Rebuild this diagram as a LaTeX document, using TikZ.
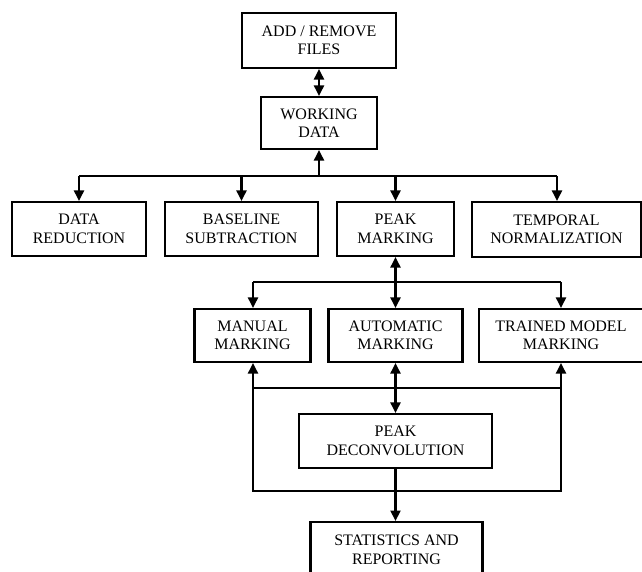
\documentclass[tikz,border=0pt]{standalone}
\usepackage{fontspec}
\setmainfont{Liberation Serif}
\usetikzlibrary{arrows.meta}
\begin{document}
\begin{tikzpicture}[x=1pt,y=-1pt,
  box/.style={draw,line width=2.1pt,rectangle,align=center,inner sep=0pt,
    font=\fontsize{16}{18.5}\selectfont},
  conn/.style={line width=2.1pt},
  arr/.style={conn,-{Triangle[width=10pt,length=10.5pt]}},
  darr/.style={conn,{Triangle[width=10pt,length=10.5pt]}-{Triangle[width=10pt,length=10.5pt]}}]
\useasboundingbox (0,0) rectangle (642,571);
\fill[white] (0,0) rectangle (642,571);
\node[box,minimum width=154pt,minimum height=55pt] (add) at (319,40.5) {ADD / REMOVE\\FILES};
\node[box,minimum width=116pt,minimum height=52pt] (work) at (319,123) {WORKING\\DATA};
\node[box,minimum width=134pt,minimum height=54pt] (dred) at (79,229) {DATA\\REDUCTION};
\node[box,minimum width=153pt,minimum height=54pt] (base) at (241.5,229) {BASELINE\\SUBTRACTION};
\node[box,minimum width=117pt,minimum height=54pt] (peak) at (395.5,229) {PEAK\\MARKING};
\node[box,minimum width=169pt,minimum height=55pt] (temp) at (556.5,229.5) {TEMPORAL\\NORMALIZATION};
\node[box,minimum width=116pt,minimum height=53pt] (man) at (252.5,335.5) {MANUAL\\MARKING};
\node[box,minimum width=134pt,minimum height=53pt] (auto) at (395.5,335.5) {AUTOMATIC\\MARKING};
\node[box,minimum width=164pt,minimum height=53pt] (trained) at (561,335.5) {TRAINED MODEL\\MARKING};
\node[box,minimum width=193pt,minimum height=54pt] (deconv) at (395.5,441) {PEAK\\DECONVOLUTION};
\node[box,minimum width=172pt,minimum height=55pt,anchor=north] (stats) at (396.5,521) {STATISTICS AND\\REPORTING};
% top
\draw[darr] (add.south) -- (work.north);
\coordinate (b1) at (319,176);
\draw[arr] (b1) -- (work.south);
\coordinate (b1l) at (79,176);
\coordinate (b1r) at (557,176);
\draw[conn] (b1l) -- (b1r);
\draw[arr] (b1l) -- (dred.north);
\draw[arr] (b1l -| base) -- (base.north);
\draw[arr] (b1l -| peak) -- (peak.north);
\draw[arr] (b1r) -- (b1r |- temp.north);
% second bus
\coordinate (b2l) at (253,282);
\coordinate (b2r) at (561,282);
\draw[conn] (b2l) -- (b2r);
\draw[arr] (b2l) -- (b2l |- man.north);
\draw[arr] (b2r) -- (trained.north);
\draw[darr] (peak.south) -- (auto.north);
% loop
\coordinate (l1) at (253,388);
\coordinate (l2) at (561,388);
\coordinate (l3) at (561,491);
\coordinate (l4) at (253,491);
\draw[conn] (l1) -- (l2);
\draw[conn] (l1) -- (l4) -- (l3) -- (l2);
\draw[arr] (l1) -- (l1 |- man.south);
\draw[arr] (l2) -- (trained.south);
\draw[darr] (auto.south) -- (deconv.north);
\draw[arr] (deconv.south) -- (deconv.south |- stats.north);
\end{tikzpicture}
\end{document}
